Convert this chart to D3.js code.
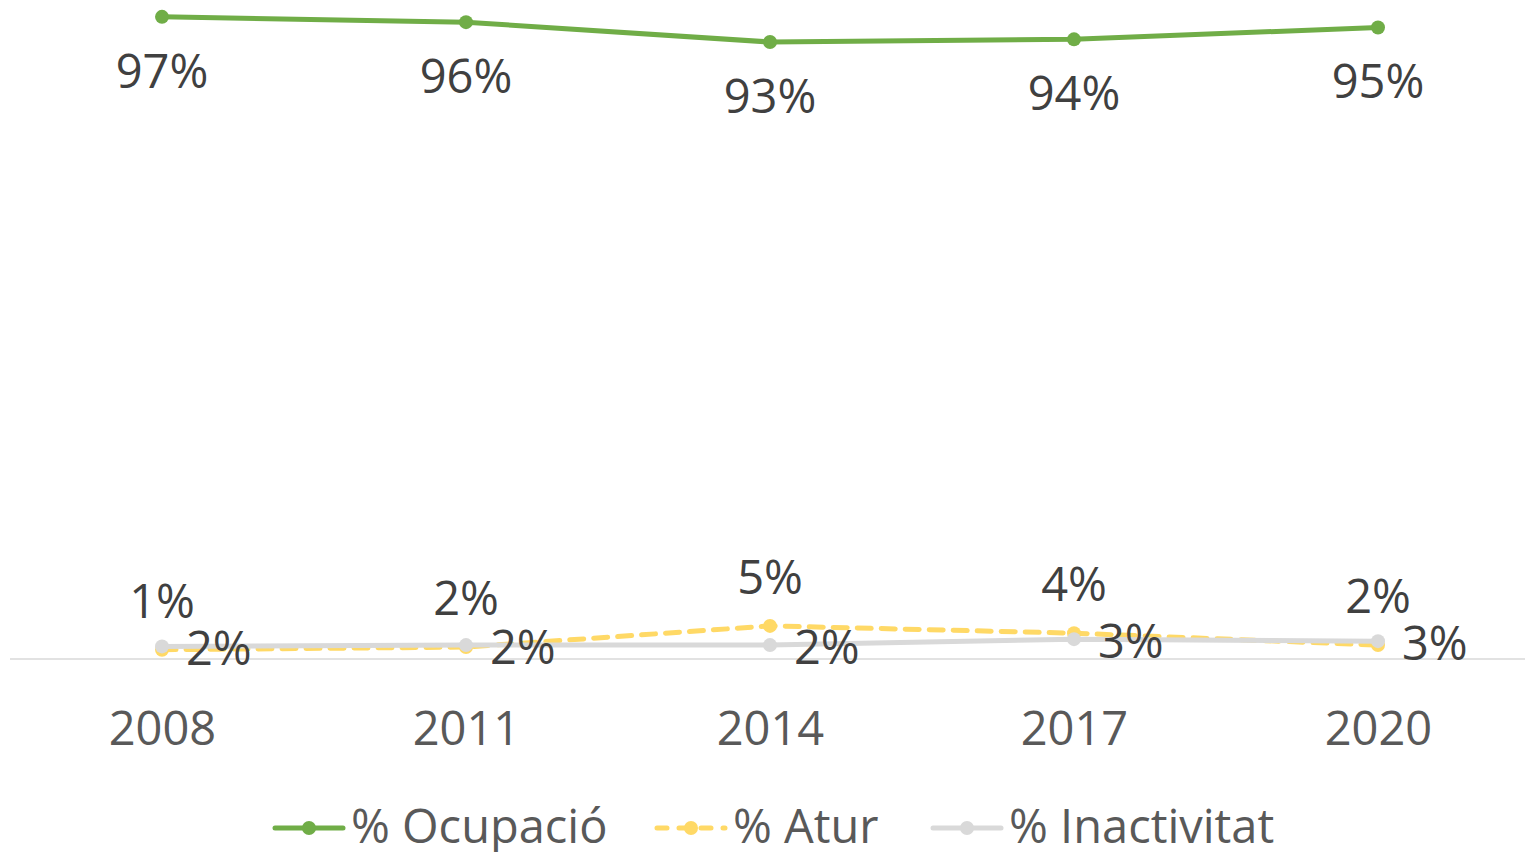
<!DOCTYPE html>
<html>
<head>
<meta charset="utf-8">
<script src="https://cdn.jsdelivr.net/npm/d3@7"></script>
<style>
  body { margin: 0; background: #fff; }
  svg text { font-family: "Open Sans", sans-serif; }
</style>
</head>
<body>
<div id="chart"></div>
<script>
const years = ["2008", "2011", "2014", "2017", "2020"];
const ocupacio = [0.970, 0.962, 0.932, 0.936, 0.954];
const atur = [0.014, 0.018, 0.050, 0.039, 0.021];
const inactivitat = [0.019, 0.021, 0.021, 0.030, 0.027];

const svgWidth = 1525, svgHeight = 852;

const svg = d3.select("#chart").append("svg")
  .attr("width", svgWidth)
  .attr("height", svgHeight);

const x = d3.scalePoint()
  .domain(years)
  .range([162, 1378]);

const y = d3.scaleLinear()
  .domain([0, 1])
  .range([659, -3]);

// baseline
svg.append("line")
  .attr("x1", 10).attr("x2", 1525)
  .attr("y1", y(0)).attr("y2", y(0))
  .attr("stroke", "#d9d9d9").attr("stroke-width", 1.5);

// x axis labels
const xAxis = d3.axisBottom(x).tickSize(0).tickPadding(0);
const axisG = svg.append("g")
  .attr("transform", `translate(0, ${y(0)})`)
  .call(xAxis);
axisG.select(".domain").remove();
axisG.selectAll("text")
  .attr("dy", null)
  .attr("y", 86)
  .attr("fill", "#595959")
  .style("font-size", "47px");

const series = [
  { name: "% Ocupació", values: ocupacio, color: "#70ad47", dash: null, pos: "below" },
  { name: "% Atur", values: atur, color: "#ffd966", dash: "14,10", pos: "above" },
  { name: "% Inactivitat", values: inactivitat, color: "#d9d9d9", dash: null, pos: "right" }
];

const line = d3.line()
  .x((d, i) => x(years[i]))
  .y(d => y(d));

series.forEach(s => {
  svg.append("path")
    .datum(s.values)
    .attr("d", line)
    .attr("fill", "none")
    .attr("stroke", s.color)
    .attr("stroke-width", 5)
    .attr("stroke-linecap", "round")
    .attr("stroke-dasharray", s.dash);

  svg.selectAll(null)
    .data(s.values)
    .enter()
    .append("circle")
    .attr("cx", (d, i) => x(years[i]))
    .attr("cy", d => y(d))
    .attr("r", 7)
    .attr("fill", s.color);
});

// data labels
series.forEach(s => {
  svg.selectAll(null)
    .data(s.values)
    .enter()
    .append("text")
    .attr("x", (d, i) => s.pos === "right" ? x(years[i]) + 24 : x(years[i]))
    .attr("y", d => s.pos === "below" ? y(d) + 71 : s.pos === "above" ? y(d) - 32 : y(d) + 19)
    .attr("text-anchor", s.pos === "right" ? "start" : "middle")
    .attr("fill", "#404040")
    .style("font-size", "47px")
    .text(d => d3.format(".0%")(d));
});

// legend
const legendItems = [
  { s: series[0], x0: 275, tx: 351 },
  { s: series[1], x0: 657, tx: 733 },
  { s: series[2], x0: 933, tx: 1009 }
];
const ly = 828;
legendItems.forEach(item => {
  svg.append("line")
    .attr("x1", item.x0).attr("x2", item.x0 + 68)
    .attr("y1", ly).attr("y2", ly)
    .attr("stroke", item.s.color)
    .attr("stroke-width", 5)
    .attr("stroke-linecap", "round")
    .attr("stroke-dasharray", item.s.dash ? "10,12" : null);
  svg.append("circle")
    .attr("cx", item.x0 + 34).attr("cy", ly)
    .attr("r", 7)
    .attr("fill", item.s.color);
  svg.append("text")
    .attr("x", item.tx).attr("y", ly + 15)
    .attr("fill", "#595959")
    .style("font-size", "47px")
    .text(item.s.name);
});
</script>
</body>
</html>
